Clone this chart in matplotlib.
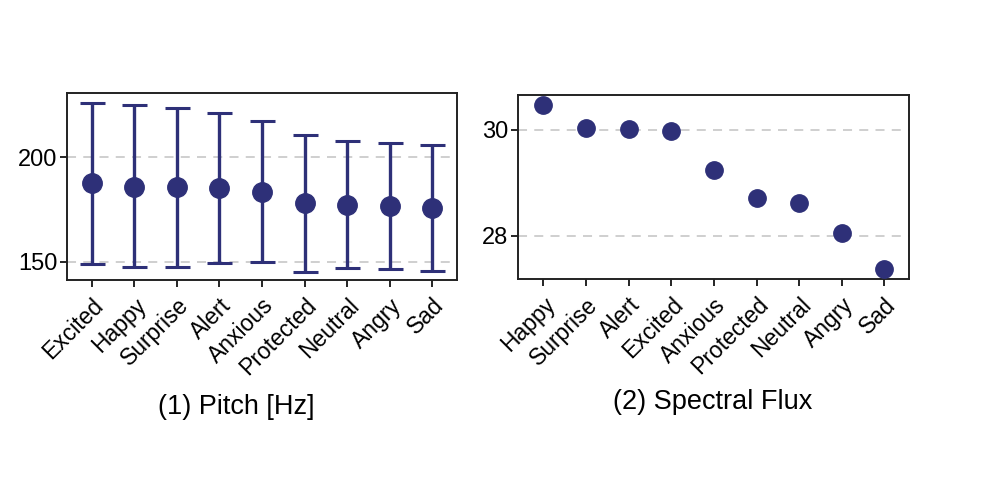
import matplotlib
matplotlib.use("Agg")
import matplotlib.pyplot as plt
import numpy as np

plt.rcParams['font.family'] = ['Liberation Sans', 'DejaVu Sans']

pitch_labels = ["Excited", "Happy", "Surprise", "Alert", "Anxious", "Protected", "Neutral", "Angry", "Sad"]
pitch_mean = [187.5, 185.9, 185.6, 185.4, 183.5, 178.0, 177.1, 176.7, 175.7]
pitch_upper = [225.9, 224.8, 223.3, 221.1, 217.0, 210.5, 207.6, 206.5, 205.7]
pitch_lower = [148.9, 147.5, 147.5, 149.4, 149.8, 145.1, 147.0, 146.5, 145.7]

flux_labels = ["Happy", "Surprise", "Alert", "Excited", "Anxious", "Protected", "Neutral", "Angry", "Sad"]
flux_values = [30.47, 30.03, 30.01, 29.98, 29.25, 28.71, 28.62, 28.06, 27.37]

color = "#2e3078"
grid_color = "#cccccc"

fig = plt.figure(figsize=(9.96, 4.95), dpi=100)
ax1 = fig.add_axes([0.0673, 0.4343, 0.3915, 0.3778])
ax2 = fig.add_axes([0.5204, 0.4358, 0.3923, 0.3723])

x1 = np.arange(len(pitch_labels))
mean = np.array(pitch_mean)
yerr = [mean - np.array(pitch_lower), np.array(pitch_upper) - mean]
ax1.errorbar(x1, mean, yerr=yerr, fmt='o', color=color, ecolor=color,
             markersize=14, elinewidth=2.4, capsize=9, capthick=2.2, zorder=3)
ax1.set_xlim(-0.58, len(pitch_labels) - 1 + 0.58)
ax1.set_ylim(141.4, 230.5)
ax1.set_yticks([150, 200])

x2 = np.arange(len(flux_labels))
ax2.plot(x2, flux_values, 'o', color=color, markersize=12.5, zorder=3)
ax2.set_xlim(-0.59, len(flux_labels) - 1 + 0.58)
ax2.set_ylim(27.18, 30.66)
ax2.set_yticks([28, 30])

for ax, labels in [(ax1, pitch_labels), (ax2, flux_labels)]:
    ax.set_xticks(np.arange(len(labels)))
    ax.set_xticklabels(labels, rotation=45, ha='right', rotation_mode='anchor', fontsize=16.5)
    ax.tick_params(axis='y', labelsize=17, length=5, width=1.2, pad=2)
    ax.tick_params(axis='x', length=5, width=1.2, pad=5)
    ax.yaxis.grid(True, linestyle=(0, (5, 4)), color=grid_color, linewidth=1.3, zorder=0)
    ax.set_axisbelow(True)
    for s in ax.spines.values():
        s.set_linewidth(1.4)
        s.set_color("#222222")

fig.text(236 / 996, 1 - 407 / 495, "(1) Pitch [Hz]", ha='center', va='center', fontsize=19.5)
fig.text(713 / 996, 1 - 402 / 495, "(2) Spectral Flux", ha='center', va='center', fontsize=19.5)

fig.savefig("out.png", dpi=100)
